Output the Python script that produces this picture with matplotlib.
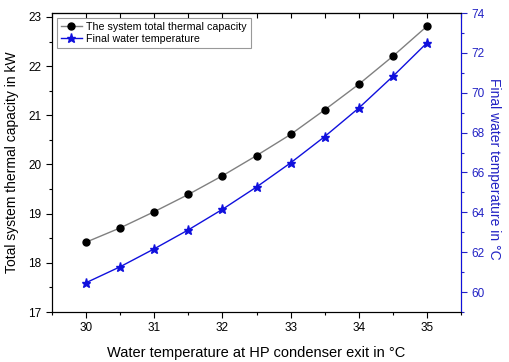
import matplotlib.pyplot as plt
from matplotlib.ticker import MultipleLocator

plt.rcParams['font.family'] = ['Liberation Sans', 'DejaVu Sans']

# water temperature at HP condenser exit (C)
x_temp = [30, 30.5, 31, 31.5, 32, 32.5, 33, 33.5, 34, 34.5, 35]
# total system thermal capacity (kW)
capacity = [18.42, 18.71, 19.04, 19.39, 19.77, 20.18, 20.61, 21.11, 21.63, 22.20, 22.81]
# final water temperature (C)
final_temp = [60.47, 61.27, 62.17, 63.12, 64.15, 65.27, 66.48, 67.8, 69.23, 70.82, 72.5]

blue = '#1010dd'
blue_txt = '#2222c4'

fig = plt.figure(figsize=(5.1, 3.62), dpi=100)
ax = fig.add_axes([52 / 510, 1 - 312 / 362, (461 - 52) / 510, (312 - 13) / 362])
ax2 = ax.twinx()

l1, = ax.plot(x_temp, capacity, '-', color='#808080', lw=1, marker='o',
              mfc='black', mec='black', ms=5, label='The system total thermal capacity')
l2, = ax2.plot(x_temp, final_temp, '-', color=blue, lw=1, marker='*',
               mfc=blue, mec=blue, ms=6.5, label='Final water temperature')

ax.set_xlim(29.5, 35.5)
ax.set_ylim(17, 23.08)
ax2.set_ylim(59, 74)

ax.xaxis.set_major_locator(MultipleLocator(1))
ax.xaxis.set_minor_locator(MultipleLocator(0.5))
ax.yaxis.set_major_locator(MultipleLocator(1))
ax.yaxis.set_minor_locator(MultipleLocator(0.5))
ax2.yaxis.set_major_locator(MultipleLocator(2))
ax2.yaxis.set_minor_locator(MultipleLocator(1))

ax.tick_params(axis='both', which='major', direction='out', length=4, labelsize=8.5, width=0.8)
ax.tick_params(axis='both', which='minor', direction='out', length=2.5, width=0.8)
ax2.tick_params(axis='y', which='major', direction='out', length=4, labelsize=8.5,
                colors=blue_txt, width=0.8)
ax2.tick_params(axis='y', which='minor', direction='out', length=2.5, colors=blue_txt, width=0.8)
ax2.spines['right'].set_color(blue)

# inward ticks along the top edge
top = ax.secondary_xaxis('top')
top.xaxis.set_major_locator(MultipleLocator(1))
top.xaxis.set_minor_locator(MultipleLocator(0.5))
top.tick_params(axis='x', which='both', direction='in', length=3.5, width=0.8, labeltop=False)

ax.set_xlabel('Water temperature at HP condenser exit in °C', fontsize=10.5, labelpad=8)
ax.set_ylabel('Total system thermal capacity in kW', fontsize=10, labelpad=7)
ax2.set_ylabel('Final water temperature in °C', fontsize=10, color=blue_txt,
               rotation=-90, labelpad=16)
ax2.yaxis.set_label_coords(1.0 + 40 / 409, 0.48)

leg = ax.legend(handles=[l1, l2], loc='upper left', fontsize=7.7, frameon=True,
                fancybox=False, edgecolor='#808080', borderaxespad=0.45,
                borderpad=0.35, handlelength=2.0, handletextpad=0.4, labelspacing=0.25)
leg.get_frame().set_linewidth(0.8)

fig.savefig('out.png', dpi=100)
